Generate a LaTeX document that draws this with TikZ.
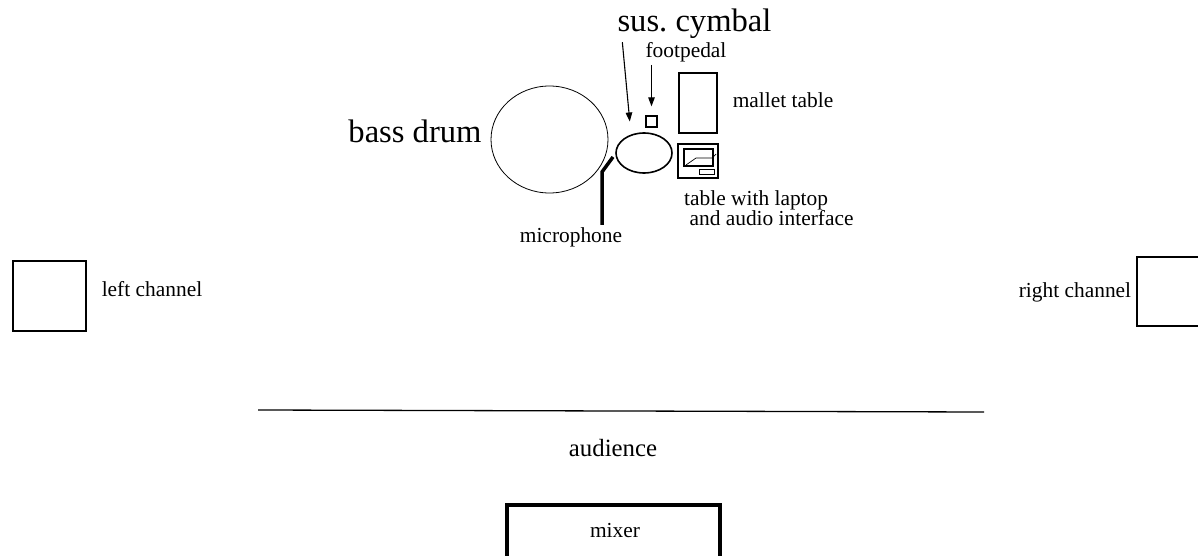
\documentclass[tikz,border=0pt]{standalone}
\usepackage{fontspec}
\setmainfont{Liberation Serif}
\usepackage{tikz}
\usetikzlibrary{arrows.meta,shapes.geometric}

\begin{document}
\begin{tikzpicture}[
  x=1pt, y=-1pt,
  lbl/.style={inner sep=0pt, font=\fontsize{21.4}{20}\selectfont},
  biglbl/.style={inner sep=0pt, font=\fontsize{32.6}{38}\selectfont},
  thing/.style={draw, line width=1.6pt, inner sep=0pt},
  arrowline/.style={-{Triangle[length=9pt,width=6.5pt]}, line width=1.1pt}
]
\useasboundingbox (0,0) rectangle (1198,556);
% instruments and tables
\node[thing, ellipse, line width=0.8pt, minimum width=117pt, minimum height=107pt] (bassdrum) at (549.5,139.5) {};
\node[thing, ellipse, minimum width=56pt, minimum height=40pt] (cymbal) at (644,153) {};
\node[thing, line width=1.3pt, minimum width=11pt, minimum height=11pt] (pedal) at (651.5,121.5) {};
\node[thing, minimum width=38pt, minimum height=60pt] (mallets) at (698,103) {};
\node[thing, minimum width=40pt, minimum height=34pt] (laptop) at (698,161) {};
\node[thing, minimum width=29pt, minimum height=17pt] (screen) at (698.5,157.5) {};
\node[draw, line width=0.8pt, inner sep=0pt, minimum width=15pt, minimum height=5pt] (keys) at (706.5,171.5) {};
\draw[line width=0.7pt] (686,165) -- (696,158) -- (712,158) -- (716,154);
% speakers and mixer
\node[thing, minimum width=73pt, minimum height=70pt] (leftspk) at (49.5,296) {};
\node[thing, minimum width=73pt, minimum height=69pt] (rightspk) at (1173.5,291.5) {};
\node[thing, line width=3.5pt, minimum width=213pt, minimum height=70pt] (mixer) at (613.5,540) {};
% labels
\node[biglbl, anchor=base] (cymlabel) at (694.5,32) {sus.\ cymbal};
\node[lbl, anchor=base] (pedallabel) at (686,58) {footpedal};
\node[lbl, anchor=base] (mallabel) at (783,108) {mallet table};
\node[biglbl, anchor=base] (drumlabel) at (415,143) {bass drum};
\node[lbl, anchor=base west, align=left] (laptoplabel) at (684,225) {table with laptop\\\ and audio interface};
\node[lbl, anchor=base] (miclabel) at (571,242) {microphone};
\node[lbl, anchor=base] (leftlabel) at (152,296) {left channel};
\node[lbl, anchor=base] (rightlabel) at (1075,297) {right channel};
\node[inner sep=0pt, font=\fontsize{24.8}{28}\selectfont, anchor=base] (audience) at (613,456) {audience};
\node[lbl, anchor=base] (mixlabel) at (615,537) {mixer};
% microphone stand and stage edge
\draw[line width=3.5pt] ([xshift=31pt,yshift=2pt]miclabel.north) -- ++(0,-53) -- ++(11,-15);
\draw[line width=1.3pt] (258,410) -- (984,412);
% pointers
\draw[arrowline, shorten >=13pt] ([shift={(5,3)}]cymlabel.south west) -- (cymbal.125);
\draw[arrowline, shorten <=2pt, shorten >=9pt] (pedal.north |- pedallabel.south) -- (pedal.north);
\end{tikzpicture}
\end{document}
